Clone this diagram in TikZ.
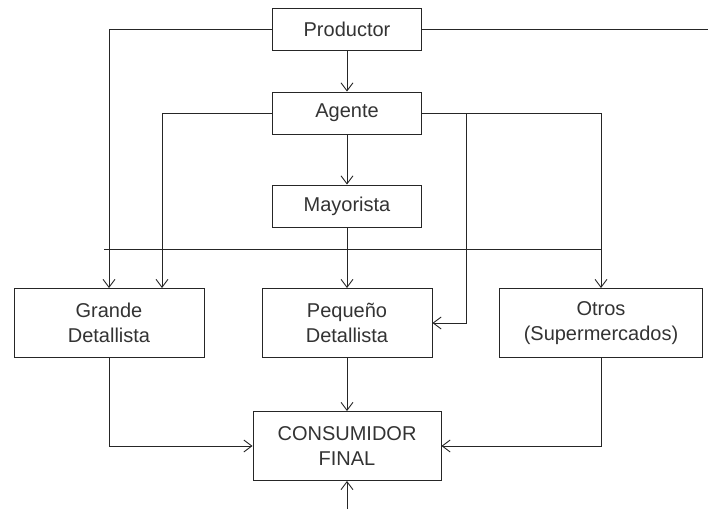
\documentclass[tikz,border=0pt]{standalone}
\usepackage{fontspec}
\setmainfont{Liberation Sans}
\usepackage{tikz}
\usetikzlibrary{arrows.meta}
\usetikzlibrary{positioning}
\usetikzlibrary{chains}
\colorlet{ink}{black!85}
\tikzset{
  base/.style={draw=ink, on grid, align=center, inner sep=0pt, line width=0.9pt,
    text=black!80, font={\fontsize{20}{25}\selectfont}},
  % boxes of the upper column
  tier/.style={base, on chain, minimum width=149pt, minimum height=42pt},
  % the three kinds of retailer and the final consumer
  seller/.style={base, minimum height=69pt},
  % -------------------------------------------------
  % connector line styles
  flow/.style={-{Straight Barb[length=8pt,width=12pt]}, draw=ink, line width=0.9pt},
  wire/.style={draw=ink, line width=0.9pt}
}

\begin{document}
\begin{tikzpicture}[%
    x=1pt, y=-1pt,
    start chain=going below,
    every join/.style={flow},
    ]
\useasboundingbox (0,0) rectangle (708,509);

% -------------------------------------------------
% Main column
\node [tier, at={(347,29)}] (productor) {Productor};
\node [node distance=84pt, tier, join] (agente) {Agente};
\node [node distance=93pt, tier, join] (mayorista) {Mayorista};
\node [node distance=117pt, seller, on chain, join, minimum width=170pt] (pequeno) {Pequeño\\Detallista};
\node [node distance=123pt, seller, on chain, join, minimum width=188pt] (consumidor) {CONSUMIDOR\\FINAL};

% retailers left and right
\node [seller, minimum width=190pt, left=238pt of pequeno] (grande) {Grande\\Detallista};
\node [seller, minimum width=203pt, right=254pt of pequeno] (otros) {Otros\\(Supermercados)};

% free ends
\coordinate (prod_out) at (708,29);
\coordinate (bus) at (347,249);
\coordinate (cons_in) at (347,509);

% -------------------------------------------------
% Connectors
\draw [wire] (productor.east) -- (prod_out);
\draw [flow] (productor.west) -| (grande.north);
\draw [flow] (agente.west) -| ([xshift=53pt]grande.north);
\draw [flow] (agente.east) -| (otros.north);
\draw [flow] ([xshift=44pt]agente.east) |- (pequeno.east);
\draw [wire] ([xshift=-5pt]grande.north |- bus) -- (otros.north |- bus);
\draw [flow] (grande.south) |- (consumidor.west);
\draw [flow] (otros.south) |- (consumidor.east);
\draw [flow] (cons_in) -- (consumidor.south);

\end{tikzpicture}
\end{document}
